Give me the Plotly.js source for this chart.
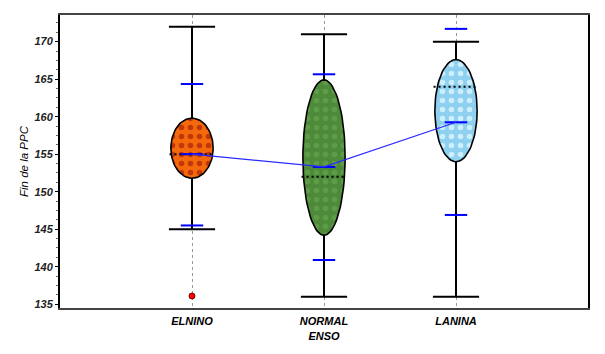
<!DOCTYPE html>
<html>
<head>
<meta charset="utf-8">
<script src="https://cdn.plot.ly/plotly-3.0.1.min.js"></script>
<style>html,body{margin:0;padding:0;background:#fff;}#chart{width:605px;height:354px;}</style>
</head>
<body>
<div id="chart"></div>
<script>
// ---- data ----
const categories = ['ELNINO', 'NORMAL<br>ENSO', 'LANINA'];
const whiskerLow  = [145, 136, 136];
const whiskerHigh = [172, 171, 170];
const boxLow      = [151.8, 144.2, 154.0];
const boxHigh     = [159.8, 164.9, 167.6];
const medians     = [155.0, 152.0, 164.0];
const means       = [155.0, 153.3, 159.25];
const sdLow       = [145.5, 140.9, 146.9];
const sdHigh      = [164.35, 165.65, 171.7];
const outlierCategory = [0];
const outlierValue    = [136.1];
const fillBg = ['#f5680c', '#4d8a3a', '#8ed0ef'];
const fillFg = ['#c0380a', '#5e9c48', '#cdeefb'];

// ---- geometry helpers (category units) ----
const capHalf = 0.175, ellHalf = 0.16, sdHalf = 0.085;
const pos = categories.map((c, i) => i + 1);

function segs(halfW, vals) {
  const x = [], y = [];
  pos.forEach((p, i) => { x.push(p - halfW, p + halfW, null); y.push(vals[i], vals[i], null); });
  return {x, y};
}

const traces = [];
// whisker stems
(function () {
  const x = [], y = [];
  pos.forEach((p, i) => { x.push(p, p, null); y.push(whiskerLow[i], whiskerHigh[i], null); });
  traces.push({x, y, mode: 'lines', line: {color: '#000', width: 2}, hoverinfo: 'skip'});
})();
// whisker caps
[whiskerLow, whiskerHigh].forEach(v => {
  const s = segs(capHalf, v);
  traces.push({x: s.x, y: s.y, mode: 'lines', line: {color: '#000', width: 2}, hoverinfo: 'skip'});
});
// sd caps (blue)
[sdLow, sdHigh].forEach(v => {
  const s = segs(sdHalf, v);
  traces.push({x: s.x, y: s.y, mode: 'lines', line: {color: '#0000ff', width: 2}, hoverinfo: 'skip'});
});
// ellipses
pos.forEach((p, i) => {
  const x = [], y = [];
  const cy = (boxLow[i] + boxHigh[i]) / 2, ry = (boxHigh[i] - boxLow[i]) / 2;
  for (let k = 0; k <= 80; k++) {
    const t = 2 * Math.PI * k / 80;
    x.push(p + ellHalf * Math.cos(t));
    y.push(cy + ry * Math.sin(t));
  }
  traces.push({x, y, mode: 'lines', fill: 'toself', fillcolor: fillBg[i],
    fillpattern: {shape: '.', bgcolor: fillBg[i], fgcolor: fillFg[i], size: 9, solidity: 0.3},
    line: {color: '#000', width: 1.6}, hoverinfo: 'skip'});
});
// medians (dotted)
(function () {
  const s = segs(ellHalf + 0.01, medians);
  traces.push({x: s.x, y: s.y, mode: 'lines', line: {color: '#000', width: 2, dash: '2px,3px'}, hoverinfo: 'skip'});
})();
// mean segments
(function () {
  const s = segs(sdHalf, means);
  traces.push({x: s.x, y: s.y, mode: 'lines', line: {color: '#0000ff', width: 2}, hoverinfo: 'skip'});
})();
// mean connecting line
traces.push({x: pos, y: means, mode: 'lines', line: {color: '#2a2aff', width: 1.2}, hoverinfo: 'skip'});
// outliers
traces.push({x: outlierCategory.map(i => pos[i]), y: outlierValue, mode: 'markers',
  marker: {color: '#ff0000', size: 6, line: {color: '#800000', width: 1}}, hoverinfo: 'skip'});

const font = {family: 'Liberation Sans, Arial, sans-serif', size: 11, color: '#000'};
const layout = {
  width: 605, height: 354,
  margin: {l: 60, r: 17, t: 15, b: 46},
  paper_bgcolor: '#fff', plot_bgcolor: '#fff',
  showlegend: false,
  font: font,
  xaxis: {
    range: [0, 4], tickvals: pos, ticktext: categories,
    showgrid: true, gridcolor: '#999', gridwidth: 1, griddash: '3px,3px',
    zeroline: false, showline: true, linecolor: '#444', linewidth: 2, mirror: true,
    ticks: '', ticklabelstandoff: 2,
    tickfont: {family: 'Liberation Sans, Arial, sans-serif', size: 11, style: 'italic', weight: 'bold', color: '#000'}
  },
  yaxis: {
    range: [134.5, 173.55], tickvals: [135, 140, 145, 150, 155, 160, 165, 170],
    showgrid: false, zeroline: false, showline: true, linecolor: '#000', linewidth: 2, mirror: true,
    ticks: 'outside', ticklen: 3, tickwidth: 1, tickcolor: '#000',
    minor: {dtick: 1.25, ticks: 'outside', ticklen: 2, tickcolor: '#666', showgrid: false},
    tickfont: {family: 'Liberation Sans, Arial, sans-serif', size: 11, style: 'italic', weight: 'bold', color: '#222'},
    title: {text: 'Fin de la PPC', standoff: 3,
      font: {family: 'Liberation Sans, Arial, sans-serif', size: 11.5, style: 'italic', color: '#000'}}
  }
};
Plotly.newPlot('chart', traces, layout, {displayModeBar: false, staticPlot: true});
</script>
</body>
</html>
